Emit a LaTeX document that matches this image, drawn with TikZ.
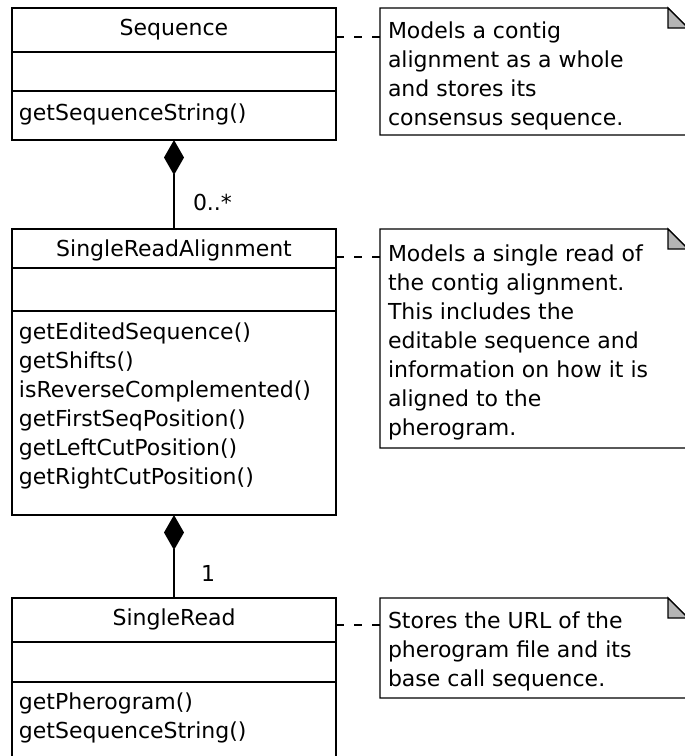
\documentclass[tikz,border=0pt]{standalone}
\usepackage{fontspec}
\setmainfont{DejaVu Sans}
\usetikzlibrary{arrows.meta}
\definecolor{foldgray}{RGB}{180,180,180}

\begin{document}
\begin{tikzpicture}[x=1pt, y=-1pt,
  every node/.style={inner sep=0pt, outer sep=0pt},
  txt/.style={font=\fontsize{22}{29}\selectfont, text=black},
  classbox/.style={draw=black, line width=1.3pt, minimum width=324pt, anchor=north west},
  notebox/.style={minimum width=308pt, anchor=north west},
  link/.style={draw=black, line width=1.3pt},
  noteline/.style={draw=black, line width=1.3pt, dash pattern=on 8pt off 10pt},
  comp/.style={draw=black, line width=1.3pt, -{Diamond[length=35pt,width=20pt]}},
]
\useasboundingbox (0,0) rectangle (685,756);
\clip (0,0) rectangle (685,756);

% ---- class boxes ----
\node[classbox, minimum height=132pt] (seq) at (12,8) {};
\node[classbox, minimum height=286pt] (sra) at (12,229) {};
\node[classbox, minimum height=190pt] (srd) at (12,598) {};

% compartment separators
\coordinate (seqd1) at (12,52);  \coordinate (seqd2) at (12,91);
\coordinate (srad1) at (12,268); \coordinate (srad2) at (12,311);
\coordinate (srdd1) at (12,642); \coordinate (srdd2) at (12,682);
\foreach \d/\b in {seqd1/seq, seqd2/seq, srad1/sra, srad2/sra, srdd1/srd, srdd2/srd}
  \draw[link] (\d) -- (\d -| \b.east);

% class names
\node[txt, anchor=base] (seqt) at (174,35) {Sequence};
\node[txt, anchor=base] (srat) at (174,256) {SingleReadAlignment};
\node[txt, anchor=base] (srdt) at (174,625) {SingleRead};

% operations
\node[txt, anchor=base west] (seqm1) at (19,120) {getSequenceString()};
\foreach \t [count=\i] in {getEditedSequence(), getShifts(), isReverseComplemented(),
    getFirstSeqPosition(), getLeftCutPosition(), getRightCutPosition()}
  \node[txt, anchor=base west] (sram\i) at (19, {339+(\i-1)*29}) {\t};
\foreach \t [count=\i] in {getPherogram(), getSequenceString()}
  \node[txt, anchor=base west] (srdm\i) at (19, {709+(\i-1)*29}) {\t};

% ---- compositions ----
\draw[comp] (sra.north) -- (seq.south);
\draw[comp] (srd.north) -- (sra.south);
\node[txt, anchor=base west] (mult1) at (193,210) {0..*};
\node[txt, anchor=base west] (mult2) at (201,581) {1};

% ---- notes ----
\node[notebox, minimum height=127pt] (n1) at (380,8) {};
\node[notebox, minimum height=219pt] (n2) at (380,229) {};
\node[notebox, minimum height=100pt] (n3) at (380,598) {};
\foreach \n in {n1,n2,n3} {
  \draw[link, fill=white] (\n.north west) -- ([xshift=-20pt]\n.north east)
    -- ([yshift=-20pt]\n.north east) -- (\n.south east) -- (\n.south west) -- cycle;
  \filldraw[link, fill=foldgray] ([xshift=-20pt]\n.north east)
    -- ([xshift=-20pt,yshift=-20pt]\n.north east) -- ([yshift=-20pt]\n.north east) -- cycle;
}

\foreach \t [count=\i] in {Models a contig, alignment as a whole, and stores its,
    consensus sequence.}
  \node[txt, anchor=base west] (n1l\i) at (388, {38+(\i-1)*29}) {\t};
\foreach \t [count=\i] in {Models a single read of, the contig alignment.,
    This includes the, editable sequence and, information on how it is,
    aligned to the, pherogram.}
  \node[txt, anchor=base west] (n2l\i) at (388, {261+(\i-1)*29}) {\t};
\foreach \t [count=\i] in {Stores the URL of the, pherogram file and its,
    base call sequence.}
  \node[txt, anchor=base west] (n3l\i) at (388, {628+(\i-1)*29}) {\t};

% ---- note attachments ----
\coordinate (a1) at (380,37);
\coordinate (a2) at (380,257);
\coordinate (a3) at (380,625);
\draw[noteline] (seq.east |- a1) -- (a1);
\draw[noteline] (sra.east |- a2) -- (a2);
\draw[noteline] (srd.east |- a3) -- (a3);
\end{tikzpicture}
\end{document}
